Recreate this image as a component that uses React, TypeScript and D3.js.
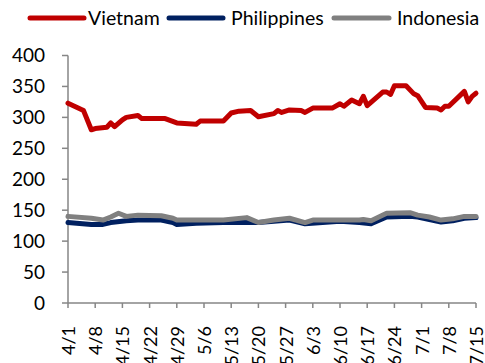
import React from "react";
import * as d3 from "d3";

// Weekly tick labels along the date axis
const tickLabels = ["4/1","4/8","4/15","4/22","4/29","5/6","5/13","5/20","5/27","6/3","6/10","6/17","6/24","7/1","7/8","7/15"];
const yTicks = [0, 50, 100, 150, 200, 250, 300, 350, 400];

const vietnam: [string, number][] = [
  ["4/1",323],["4/5",311],["4/7",280],["4/8",282],["4/11",284],["4/12",291],["4/13",285],
  ["4/15",296],["4/16",300],["4/19",303],["4/20",298],["4/26",298],["4/29",291],["5/4",289],
  ["5/5",294],["5/11",294],["5/13",307],["5/15",310],["5/18",311],["5/20",301],["5/24",306],
  ["5/25",311],["5/26",308],["5/28",312],["5/31",311],["6/1",308],["6/3",315],["6/8",315],
  ["6/10",322],["6/11",318],["6/13",328],["6/15",322],["6/16",334],["6/17",319],["6/21",341],
  ["6/22",341],["6/23",337],["6/24",351],["6/27",351],["6/29",338],["6/30",335],["7/2",316],
  ["7/5",315],["7/6",312],["7/7",318],["7/8",318],["7/12",342],["7/13",325],["7/14",334],["7/15",339],
];

const philippines: [string, number][] = [
  ["4/1",130],["4/7",127],["4/10",127],["4/12",130],["4/16",133],["4/19",134],["4/25",134],
  ["4/28",130],["4/29",127],["5/4",129],["5/11",130],["5/20",130],["5/28",134],["6/1",128],
  ["6/10",132],["6/15",130],["6/18",128],["6/22",139],["6/28",140],["6/30",139],["7/6",131],
  ["7/9",133],["7/12",137],["7/15",138],
];

const indonesia: [string, number][] = [
  ["4/1",140],["4/7",137],["4/10",134],["4/12",139],["4/14",145],["4/16",140],["4/19",142],
  ["4/25",141],["4/28",137],["4/29",134],["5/4",134],["5/11",134],["5/17",138],["5/20",130],
  ["5/24",134],["5/28",137],["6/1",130],["6/3",134],["6/10",134],["6/15",134],["6/16",135],
  ["6/18",133],["6/22",145],["6/28",146],["6/30",142],["7/3",139],["7/6",134],["7/9",136],
  ["7/12",140],["7/15",140],
];

const seriesNames = ["Vietnam", "Philippines", "Indonesia"];
const seriesColors = ["#C00000", "#002060", "#808080"];
const seriesData = [vietnam, philippines, indonesia];

const parse = d3.timeParse("%m/%d");
const FONT = "Lato, 'Open Sans', sans-serif";
const AXIS = "#868686";

export default function App() {
  const width = 485, height = 363;
  const left = 68, right = 476, top = 55.5, bottom = 303;

  const x = d3.scaleTime()
    .domain([parse(tickLabels[0])!, parse(tickLabels[tickLabels.length - 1])!])
    .range([left, right]);
  const y = d3.scaleLinear().domain([0, 400]).range([bottom, top]);

  const line = d3.line<[string, number]>()
    .x(d => x(parse(d[0])!))
    .y(d => y(d[1]));

  // legend layout: line swatch followed by its label
  const legendItems = [
    { x0: 30, x1: 84, tx: 88 },
    { x0: 169, x1: 223, tx: 231 },
    { x0: 334, x1: 389, tx: 397 },
  ];

  return (
    <svg width={width} height={height} style={{ position: "absolute", left: 0, top: 0, background: "#fff" }}>
      {/* legend */}
      {legendItems.map((it, i) => (
        <g key={seriesNames[i]}>
          <line x1={it.x0} x2={it.x1} y1={18} y2={18} stroke={seriesColors[i]} strokeWidth={5} strokeLinecap="round" />
          <text x={it.tx} y={24.5} fontFamily={FONT} fontSize={19.5} fill="#000">{seriesNames[i]}</text>
        </g>
      ))}

      {/* y axis */}
      <line x1={left} x2={left} y1={top} y2={bottom} stroke={AXIS} strokeWidth={1.5} />
      {yTicks.map(t => (
        <g key={t}>
          <line x1={left - 6} x2={left} y1={y(t)} y2={y(t)} stroke={AXIS} strokeWidth={1.5} />
          <text x={45} y={y(t)} dy="0.36em" textAnchor="end" fontFamily={FONT} fontSize={19} fill="#000">{t}</text>
        </g>
      ))}

      {/* x axis */}
      <line x1={left} x2={right} y1={bottom} y2={bottom} stroke={AXIS} strokeWidth={1.5} />
      {tickLabels.map(t => {
        const tx = x(parse(t)!);
        return (
          <g key={t}>
            <line x1={tx} x2={tx} y1={bottom} y2={bottom + 5} stroke={AXIS} strokeWidth={1.5} />
            <text transform={`translate(${tx + 0.5},326) rotate(-90)`} dy="0.36em" textAnchor="end"
              fontFamily={FONT} fontSize={18} fill="#000">{t}</text>
          </g>
        );
      })}

      {/* series lines */}
      {seriesData.map((d, i) => (
        <path key={seriesNames[i]} d={line(d)!} fill="none" stroke={seriesColors[i]} strokeWidth={5}
          strokeLinejoin="round" strokeLinecap="round" />
      ))}
    </svg>
  );
}
